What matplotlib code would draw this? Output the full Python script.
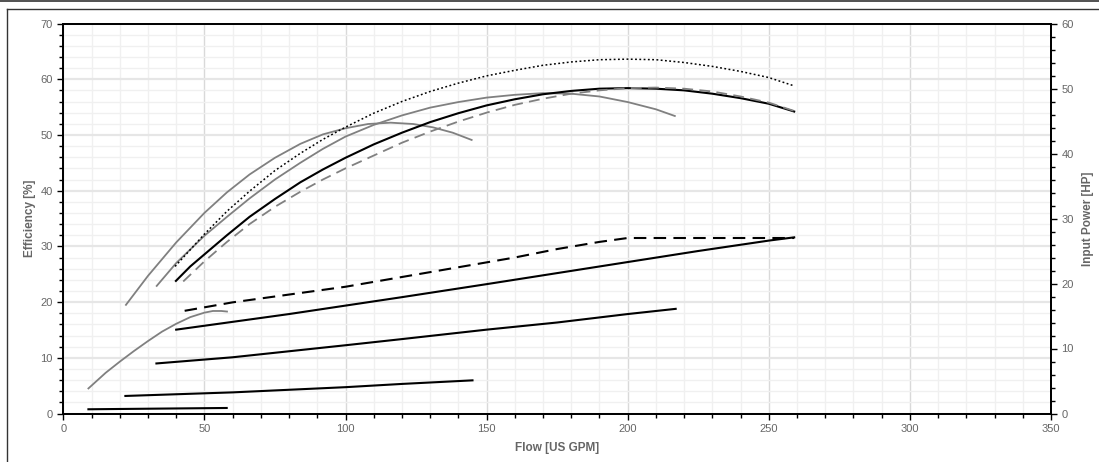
import numpy as np
import matplotlib.pyplot as plt
from matplotlib.lines import Line2D
from matplotlib.ticker import MultipleLocator

plt.rcParams['font.family'] = ['Liberation Sans', 'DejaVu Sans']

# efficiency curves [%] (left axis)
eff_a_x = [22.2, 30, 40, 50, 58, 66, 75, 84, 92, 100, 108, 116, 124, 131, 138, 144.7]
eff_a_y = [19.5, 24.7, 30.7, 36.0, 39.7, 42.9, 45.9, 48.4, 50.1, 51.2, 51.96, 52.2, 51.96, 51.36, 50.4, 49.1]

eff_b_x = [33.1, 40, 50, 58, 66, 75, 84, 92, 100, 110, 120, 130, 140, 150, 160, 170, 180, 190, 200, 210, 216.7]
eff_b_y = [22.9, 27.0, 31.9, 35.3, 38.6, 42.0, 45.0, 47.5, 49.7, 51.8, 53.5, 54.9, 55.9, 56.7, 57.2, 57.5, 57.4, 56.9, 55.9, 54.6, 53.4]

eff_dot_x = [39.6, 45, 50, 58, 66, 75, 84, 92, 100, 110, 120, 130, 140, 150, 160, 170, 180, 190, 200, 210, 220, 230, 240, 250, 259]
eff_dot_y = [26.4, 29.4, 32.2, 36.3, 39.9, 43.6, 46.7, 49.2, 51.4, 53.9, 56.0, 57.8, 59.3, 60.6, 61.6, 62.5, 63.1, 63.5, 63.6, 63.5, 63.0, 62.3, 61.4, 60.3, 58.8]

eff_blk_x = [39.9, 45, 50.8, 58, 66, 75, 84, 92, 100, 110, 120, 130, 140, 150, 160, 170, 180, 190, 200, 210, 220, 230, 240, 250, 259]
eff_blk_y = [23.8, 26.4, 28.9, 32.0, 35.3, 38.5, 41.5, 43.8, 45.9, 48.3, 50.4, 52.3, 53.9, 55.3, 56.4, 57.3, 57.9, 58.3, 58.4, 58.3, 58.0, 57.4, 56.6, 55.6, 54.2]

eff_dsh_x = [42.5, 50, 58, 66, 75, 84, 92, 100, 110, 120, 130, 140, 150, 160, 170, 180, 190, 200, 210, 220, 230, 240, 250, 259]
eff_dsh_y = [23.7, 27.3, 30.8, 34.0, 37.1, 39.8, 42.0, 44.0, 46.3, 48.6, 50.6, 52.4, 54.0, 55.4, 56.5, 57.4, 58.0, 58.4, 58.5, 58.3, 57.8, 56.9, 55.8, 54.3]

eff_low_x = [8.9, 15, 20, 25, 30, 35, 40, 45, 50, 53, 56, 58]
eff_low_y = [4.5, 7.3, 9.3, 11.2, 13.0, 14.7, 16.1, 17.3, 18.1, 18.4, 18.4, 18.3]

# input power curves [HP] (right axis)
pow_1_x = [8.9, 57.9]
pow_1_y = [0.65, 0.85]

pow_2_x = [22, 60, 100, 120, 145]
pow_2_y = [2.7, 3.25, 4.05, 4.55, 5.1]

pow_3_x = [33, 60, 100, 119, 150, 175, 200, 217]
pow_3_y = [7.7, 8.65, 10.5, 11.4, 12.9, 14.0, 15.3, 16.1]

pow_4_x = [40, 60, 80, 100, 120, 150, 175, 200, 225, 250, 259]
pow_4_y = [12.9, 14.1, 15.3, 16.6, 17.9, 19.9, 21.6, 23.3, 25.0, 26.6, 27.1]

pow_5_x = [43, 60, 80, 100, 120, 140, 160, 175, 190, 200, 230, 259]
pow_5_y = [15.8, 17.1, 18.3, 19.5, 21.0, 22.5, 24.0, 25.3, 26.4, 27.0, 27.0, 27.0]

GRAY = '#808080'
TXT = '#666666'

fig = plt.figure(figsize=(10.99, 4.62), dpi=100)
ax = fig.add_axes([63.3 / 1099, 1 - 413.5 / 462, (1051 - 63.3) / 1099, (413.5 - 23.5) / 462])
ax2 = ax.twinx()

lw = 1.3
ax.plot(eff_a_x, eff_a_y, color=GRAY, lw=lw)
ax.plot(eff_b_x, eff_b_y, color=GRAY, lw=lw)
ax.plot(eff_dot_x, eff_dot_y, color='black', lw=1.1, dashes=(1.2, 1.6))
ax.plot(eff_blk_x, eff_blk_y, color='black', lw=1.5)
ax.plot(eff_dsh_x, eff_dsh_y, color=GRAY, lw=lw, dashes=(6, 3.5))
ax.plot(eff_low_x, eff_low_y, color=GRAY, lw=lw)

ax2.plot(pow_1_x, pow_1_y, color='black', lw=1.5)
ax2.plot(pow_2_x, pow_2_y, color='black', lw=1.5)
ax2.plot(pow_3_x, pow_3_y, color='black', lw=1.5)
ax2.plot(pow_4_x, pow_4_y, color='black', lw=1.5)
ax2.plot(pow_5_x, pow_5_y, color='black', lw=1.5, dashes=(6, 3.5))

ax.set_xlim(0, 350)
ax.set_ylim(0, 70)
ax2.set_ylim(0, 60)

ax.xaxis.set_major_locator(MultipleLocator(50))
ax.xaxis.set_minor_locator(MultipleLocator(10))
ax.yaxis.set_major_locator(MultipleLocator(10))
ax.yaxis.set_minor_locator(MultipleLocator(2))
ax2.yaxis.set_major_locator(MultipleLocator(10))
ax2.yaxis.set_minor_locator(MultipleLocator(2))

ax.grid(which='major', axis='x', color='#d9d9d9', lw=1.0)
ax.grid(which='minor', axis='x', color='#f0f0f0', lw=1.0)
ax.grid(which='major', axis='y', color='#e6e6e6', lw=1.6)
ax.grid(which='minor', axis='y', color='#f0f0f0', lw=1.0)
ax.set_axisbelow(True)

for a in (ax, ax2):
    for s in a.spines.values():
        s.set_color('black')
        s.set_linewidth(1.3)
    a.tick_params(which='major', length=4, width=1, color='black', labelcolor=TXT, labelsize=8)
    a.tick_params(which='minor', length=3, width=1, color='black')

ax.set_xlabel('Flow [US GPM]', color=TXT, fontsize=8.5, fontweight='bold', labelpad=6)
ax.set_ylabel('Efficiency [%]', color=TXT, fontsize=8.5, fontweight='bold', labelpad=3)
ax2.set_ylabel('Input Power [HP]', color=TXT, fontsize=8.5, fontweight='bold', labelpad=6)

# outer frame
fig.add_artist(Line2D([0, 1], [1 - 1 / 462, 1 - 1 / 462], color='#333333', lw=1.2))
fig.add_artist(Line2D([7 / 1099, 1.01], [1 - 9 / 462, 1 - 9 / 462], color='#333333', lw=1.0))
fig.add_artist(Line2D([7 / 1099, 7 / 1099], [-0.01, 1 - 9 / 462], color='#333333', lw=1.0))

fig.savefig('out.png', dpi=100)
